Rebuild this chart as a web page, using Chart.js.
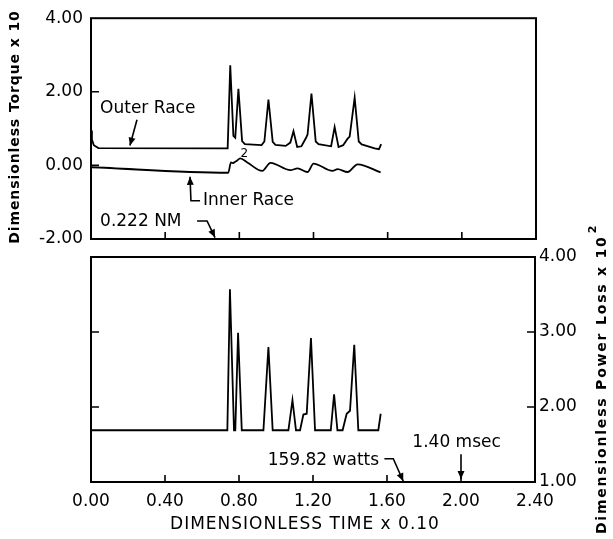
<!DOCTYPE html>
<html>
<head>
<meta charset="utf-8">
<script src="https://cdn.jsdelivr.net/npm/chart.js@4.4.1/dist/chart.umd.min.js"></script>
<style>
  body { margin: 0; background: #fff; }
  #wrap { position: relative; width: 613px; height: 539px; }
  canvas { position: absolute; left: 0; top: 0; }
</style>
</head>
<body>
<div id="wrap">
  <canvas id="torque" width="613" height="539"></canvas>
  <canvas id="power" width="613" height="539"></canvas>
</div>
<script>
// Datos (tiempo adimensional x 0.10)
const outerTime = [0, 0.005, 0.015, 0.04, 0.737, 0.751, 0.768, 0.778, 0.795, 0.815, 0.83, 0.92, 0.935, 0.957, 0.98, 0.995, 1.05, 1.075, 1.092, 1.112, 1.135, 1.16, 1.168, 1.189, 1.212, 1.227, 1.295, 1.314, 1.335, 1.36, 1.383, 1.395, 1.422, 1.444, 1.46, 1.53, 1.553, 1.565];
const outerTorque = [0.95, 0.7, 0.55, 0.47, 0.46, 2.72, 0.8, 0.75, 2.08, 0.66, 0.58, 0.55, 0.65, 1.79, 0.64, 0.56, 0.53, 0.62, 0.93, 0.5, 0.52, 0.75, 0.84, 1.95, 0.65, 0.58, 0.52, 1.04, 0.5, 0.55, 0.72, 0.78, 1.84, 0.65, 0.57, 0.46, 0.44, 0.58];

const innerTime = [0, 0.74, 0.755, 0.765, 0.775, 0.785, 0.805, 0.843, 0.924, 0.968, 1.076, 1.114, 1.168, 1.2, 1.303, 1.33, 1.384, 1.438, 1.562];
const innerTorque = [-0.05, -0.2, 0.08, 0.06, 0.09, 0.12, 0.19, 0.08, -0.15, 0.07, -0.13, -0.08, -0.18, 0.05, -0.15, -0.1, -0.18, 0.03, -0.19];

const powerTime = [0, 0.737, 0.751, 0.773, 0.78, 0.795, 0.815, 0.932, 0.959, 0.982, 1.067, 1.089, 1.108, 1.13, 1.148, 1.166, 1.189, 1.211, 1.296, 1.314, 1.332, 1.36, 1.382, 1.4, 1.423, 1.445, 1.553, 1.566];
const powerLoss = [1.69, 1.69, 3.57, 1.69, 1.69, 2.99, 1.69, 1.69, 2.8, 1.69, 1.69, 2.09, 1.69, 1.69, 1.9, 1.91, 2.92, 1.69, 1.69, 2.17, 1.69, 1.69, 1.91, 1.95, 2.83, 1.69, 1.69, 1.91];

const timeTicks = [0, 0.4, 0.8, 1.2, 1.6, 2.0, 2.4];
const torqueTicks = [-2, 0, 2, 4];
const powerTicks = [1, 2, 3, 4];

Chart.defaults.font.family = "'DejaVu Sans', sans-serif";
Chart.defaults.font.size = 17;
Chart.defaults.color = '#000';

function toPoints(xs, ys) {
    return xs.map((x, i) => ({ x: x, y: ys[i] }));
}

function setTicks(values) {
    return scale => { scale.ticks = values.map(v => ({ value: v })); };
}

// Dibuja un texto girado (lectura de abajo hacia arriba)
function drawRotated(ctx, text, cx, cy, font, spacing, sup) {
    ctx.save();
    ctx.translate(cx, cy);
    ctx.rotate(-Math.PI / 2);
    ctx.font = font;
    ctx.letterSpacing = spacing;
    ctx.textBaseline = 'middle';
    const w = ctx.measureText(text).width;
    let supW = 0;
    if (sup) {
        ctx.font = 'bold 11px DejaVu Sans';
        supW = ctx.measureText(sup).width + 2;
        ctx.font = font;
    }
    const start = -(w + supW) / 2;
    ctx.textAlign = 'left';
    ctx.fillText(text, start, 0);
    if (sup) {
        ctx.font = 'bold 11px DejaVu Sans';
        ctx.fillText(sup, start + w + 2, -9);
    }
    ctx.restore();
}

function arrowHead(ctx, x0, y0, x1, y1) {
    const ang = Math.atan2(y1 - y0, x1 - x0);
    const len = 8, half = 3.5;
    ctx.beginPath();
    ctx.moveTo(x1, y1);
    ctx.lineTo(x1 - len * Math.cos(ang) + half * Math.sin(ang), y1 - len * Math.sin(ang) - half * Math.cos(ang));
    ctx.lineTo(x1 - len * Math.cos(ang) - half * Math.sin(ang), y1 - len * Math.sin(ang) + half * Math.cos(ang));
    ctx.closePath();
    ctx.fill();
}

// Marco, marcas interiores, notas y títulos
function makeFigure(cfg) {
    return {
        id: 'figure_' + cfg.name,
        afterDraw(chart) {
            const ctx = chart.ctx;
            const a = chart.chartArea;
            const xs = chart.scales.x;
            const ys = chart.scales[cfg.yId];
            ctx.save();
            ctx.strokeStyle = '#000';
            ctx.fillStyle = '#000';
            ctx.lineWidth = 2;
            ctx.strokeRect(a.left, a.top, a.right - a.left, a.bottom - a.top);

            ctx.lineWidth = 1.6;
            ctx.beginPath();
            cfg.ticksX.forEach(v => {
                const px = xs.getPixelForValue(v);
                ctx.moveTo(px, a.bottom);
                ctx.lineTo(px, a.bottom - 7);
            });
            cfg.ticksLeft.forEach(v => {
                const py = ys.getPixelForValue(v);
                ctx.moveTo(a.left, py);
                ctx.lineTo(a.left + 8, py);
            });
            cfg.ticksRight.forEach(v => {
                const py = ys.getPixelForValue(v);
                ctx.moveTo(a.right, py);
                ctx.lineTo(a.right - 8, py);
            });
            ctx.stroke();

            // notas
            cfg.notes.forEach(n => {
                ctx.font = (n.size || 17) + 'px DejaVu Sans';
                ctx.letterSpacing = '0px';
                ctx.textAlign = 'left';
                ctx.textBaseline = 'middle';
                ctx.fillText(n.text, xs.getPixelForValue(n.x), ys.getPixelForValue(n.y));
                if (n.path) {
                    const pts = n.path.map(p => [xs.getPixelForValue(p[0]), ys.getPixelForValue(p[1])]);
                    ctx.lineWidth = 1.6;
                    ctx.beginPath();
                    pts.forEach((p, i) => i ? ctx.lineTo(p[0], p[1]) : ctx.moveTo(p[0], p[1]));
                    ctx.stroke();
                    const k = pts.length - 1;
                    arrowHead(ctx, pts[k - 1][0], pts[k - 1][1], pts[k][0], pts[k][1]);
                }
            });

            cfg.titles.forEach(t => {
                if (t.rotated) {
                    drawRotated(ctx, t.text, t.cx, t.cy, t.font, t.spacing, t.sup);
                } else {
                    ctx.font = t.font;
                    ctx.letterSpacing = t.spacing;
                    ctx.textAlign = 'center';
                    ctx.textBaseline = 'middle';
                    ctx.fillText(t.text, t.cx, t.cy);
                }
            });
            ctx.restore();
        }
    };
}

const lineStyle = { borderColor: '#000', borderWidth: 1.8, pointRadius: 0, fill: false };

// Gráfico superior: torque
new Chart(document.getElementById('torque'), {
    type: 'line',
    data: {
        datasets: [
            Object.assign({ data: toPoints(outerTime, outerTorque), tension: 0 }, lineStyle),
            Object.assign({ data: toPoints(innerTime, innerTorque), cubicInterpolationMode: 'monotone' }, lineStyle)
        ]
    },
    options: {
        responsive: false,
        animation: false,
        layout: { padding: { top: 15, right: 77, bottom: 300, left: 0 } },
        plugins: { legend: { display: false }, tooltip: { enabled: false } },
        scales: {
            x: { type: 'linear', min: 0, max: 2.4, display: false, afterBuildTicks: setTicks(timeTicks) },
            y: {
                type: 'linear', min: -2, max: 4,
                afterBuildTicks: setTicks(torqueTicks),
                afterFit: s => { s.width = 91; },
                grid: { display: false, drawTicks: false },
                border: { display: false },
                ticks: { padding: 8, callback: v => v.toFixed(2) }
            }
        }
    },
    plugins: [makeFigure({
        name: 'torque', yId: 'y',
        ticksX: [0.4, 0.8, 1.2, 1.6, 2.0],
        ticksLeft: [0, 2],
        ticksRight: [],
        notes: [
            { text: 'Outer Race', x: 0.049, y: 1.54, path: [[0.248, 1.24], [0.21, 0.54]] },
            { text: 'Inner Race', x: 0.604, y: -0.96, path: [[0.588, -0.96], [0.539, -0.96], [0.534, -0.31]] },
            { text: '0.222 NM', x: 0.049, y: -1.54, path: [[0.572, -1.51], [0.626, -1.51], [0.669, -1.96]] },
            { text: '2', x: 0.806, y: 0.32, size: 12 }
        ],
        titles: [
            { text: 'Dimensionless Torque x 10', cx: 15, cy: 127, font: 'bold 14px DejaVu Sans', spacing: '0.9px', rotated: true }
        ]
    })]
});

// Gráfico inferior: pérdida de potencia
new Chart(document.getElementById('power'), {
    type: 'line',
    data: {
        datasets: [
            Object.assign({ data: toPoints(powerTime, powerLoss), tension: 0, yAxisID: 'y' }, lineStyle)
        ]
    },
    options: {
        responsive: false,
        animation: false,
        layout: { padding: { top: 257, right: 0, bottom: 0, left: 91 } },
        plugins: { legend: { display: false }, tooltip: { enabled: false } },
        scales: {
            x: {
                type: 'linear', min: 0, max: 2.4,
                afterBuildTicks: setTicks(timeTicks),
                afterFit: s => { s.height = 57; },
                grid: { display: false, drawTicks: false },
                border: { display: false },
                ticks: { padding: 9, maxRotation: 0, autoSkip: false, callback: v => v.toFixed(2) }
            },
            y: {
                type: 'linear', position: 'right', min: 1, max: 4,
                afterBuildTicks: setTicks(powerTicks),
                afterFit: s => { s.width = 78; },
                grid: { display: false, drawTicks: false },
                border: { display: false },
                ticks: { padding: 4, callback: v => v.toFixed(2) }
            }
        }
    },
    plugins: [makeFigure({
        name: 'power', yId: 'y',
        ticksX: [0.4, 0.8, 1.2, 1.6, 2.0],
        ticksLeft: [2, 3],
        ticksRight: [2, 3],
        notes: [
            { text: '159.82 watts', x: 0.955, y: 1.28, path: [[1.586, 1.31], [1.634, 1.31], [1.688, 1.01]] },
            { text: '1.40 msec', x: 1.737, y: 1.52, path: [[2.0, 1.37], [2.0, 1.04]] }
        ],
        titles: [
            { text: 'DIMENSIONLESS TIME x 0.10', cx: 305, cy: 525, font: '17px DejaVu Sans', spacing: '1px' },
            { text: 'Dimensionless Power Loss x 10', sup: '2', cx: 602, cy: 379, font: 'bold 14px DejaVu Sans', spacing: '1.8px', rotated: true }
        ]
    })]
});
</script>
</body>
</html>
